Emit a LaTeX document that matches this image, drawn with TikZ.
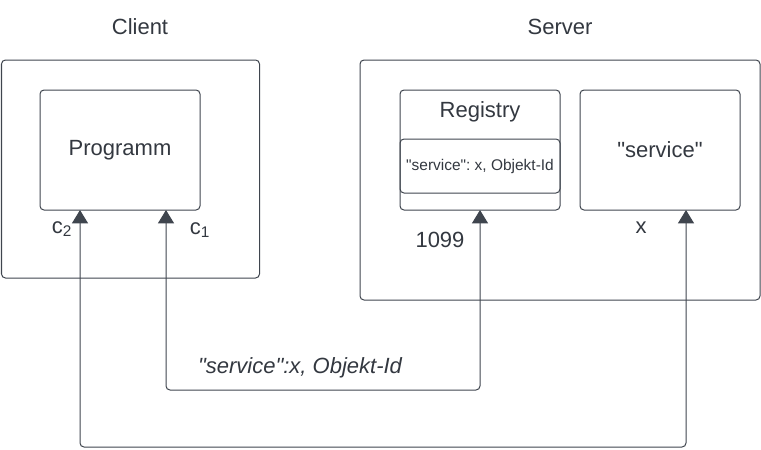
\documentclass[tikz,border=0pt]{standalone}
\usepackage{fontspec}
\setmainfont{Liberation Sans}
\usetikzlibrary{arrows.meta}
\definecolor{ln}{HTML}{3F454E}
\definecolor{tx}{HTML}{333840}
\newcommand{\q}{\textquotedbl}
\frenchspacing
\tikzset{
  box/.style={draw=ln, line width=0.75pt, rounded corners=3pt, inner sep=0pt, outer sep=0pt},
  lbl/.style={text=tx, font=\fontsize{16.5pt}{19pt}\selectfont, inner sep=0pt},
  small/.style={text=tx, font=\fontsize{11.6pt}{14pt}\selectfont, inner sep=0pt},
  conn/.style={draw=ln, line width=0.75pt, rounded corners=3pt,
    {Triangle[width=12pt,length=10pt]}-{Triangle[width=12pt,length=10pt]}}
}
\begin{document}
\begin{tikzpicture}[x=0.75pt,y=-0.75pt]
\useasboundingbox (0,0) rectangle (761,450);
% titles
\node[lbl] (tclient) at (140,27) {Client};
\node[lbl] (tserver) at (560,27) {Server};
% outer boxes
\node[box, minimum width=193.5pt, minimum height=163.5pt] (client) at (130.5,169) {};
\node[box, minimum width=300pt, minimum height=180pt] (server) at (560,180) {};
% programm
\node[box, lbl, minimum width=120pt, minimum height=90pt] (prog) at (120,150) {Programm};
% registry
\node[box, minimum width=120pt, minimum height=90pt] (reg) at (480,150) {};
\node[lbl] (regt) at (480,112) {Registry};
\node[box, small, minimum width=120pt, minimum height=40.5pt] (regin) at (480,166) {\q service\q: x, Objekt-Id};
% service
\node[box, lbl, minimum width=120pt, minimum height=90pt] (svc) at (660,150) {\q service\q};
% small labels
\node[lbl] (c2) at (62,229) {c\textsubscript{2}};
\node[lbl] (c1) at (200,230) {c\textsubscript{1}};
\node[lbl] (port) at (440,240) {1099};
\node[lbl] (xl) at (641,228) {x};
\node[lbl, font=\fontsize{16.5pt}{19pt}\selectfont\itshape] (msg) at (300,368) {\q service\q:x, Objekt-Id};
% connectors
\coordinate (a1) at (166,390);
\coordinate (a2) at (480,390);
\coordinate (b1) at (80,447);
\coordinate (b2) at (686,447);
\draw[conn] (prog.south -| a1) -- (a1) -- (a2) -- (reg.south -| a2);
\draw[conn] (prog.south -| b1) -- (b1) -- (b2) -- (svc.south -| b2);
\end{tikzpicture}
\end{document}
